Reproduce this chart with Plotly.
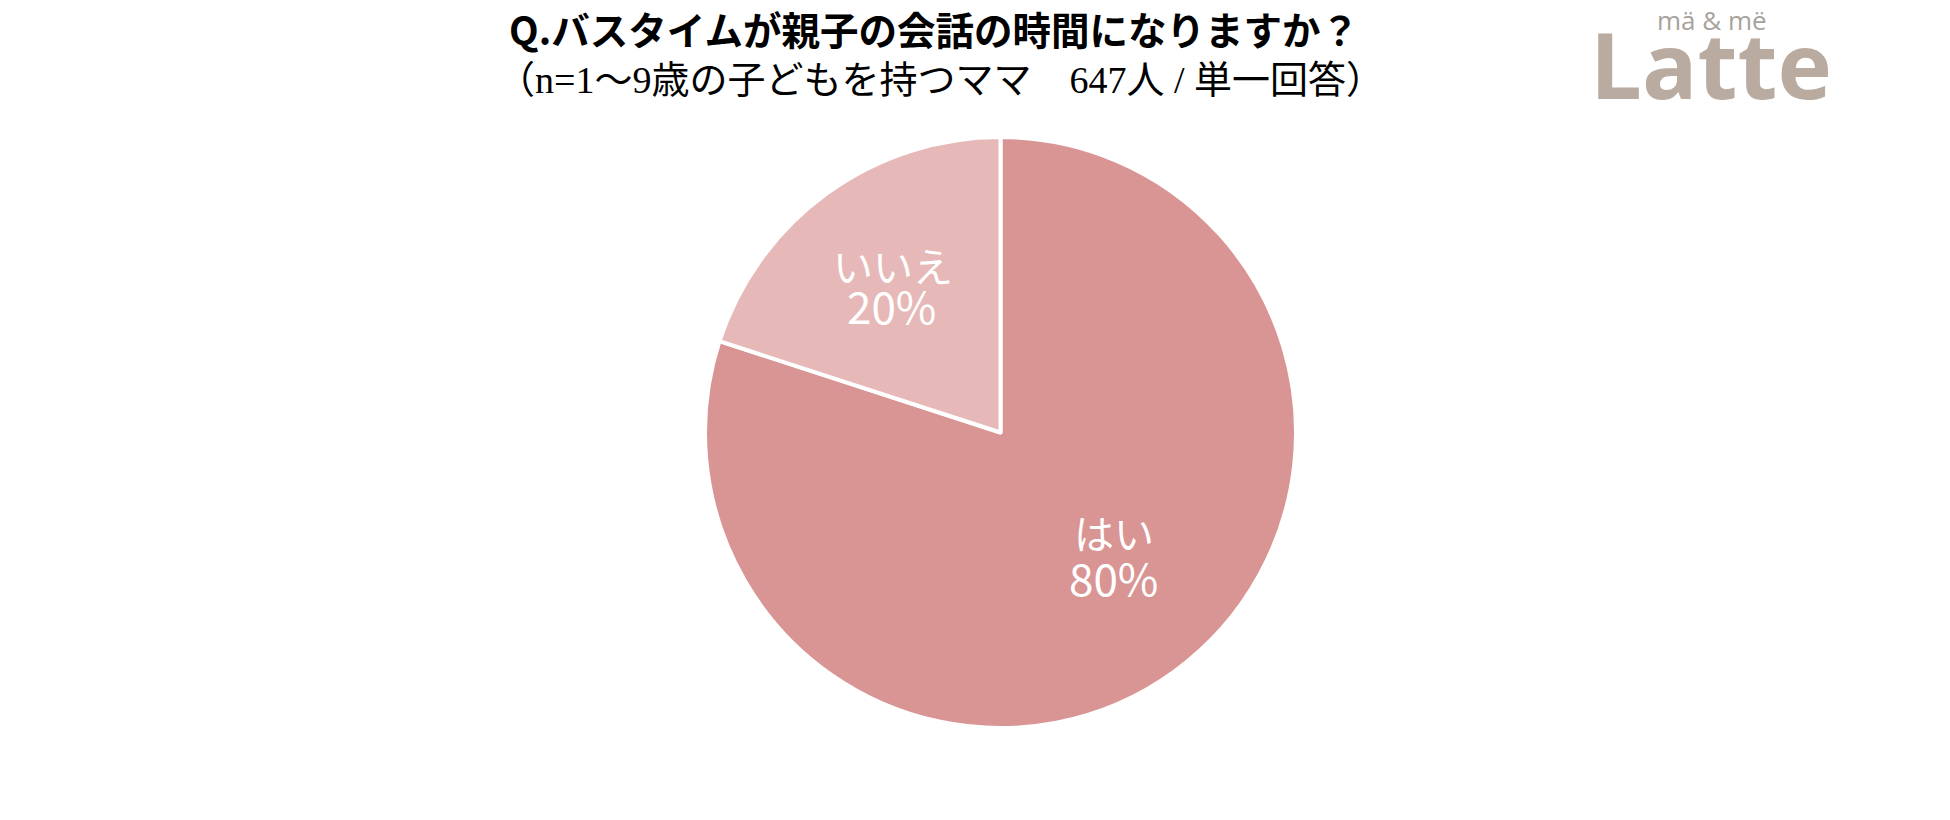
import plotly.graph_objects as go

# 回答データ
answers = ["はい", "いいえ"]
shares = [80, 20]
slice_colors = ["#D99594", "#E6B8B7"]

title_text = "Q.バスタイムが親子の会話の時間になりますか？"
subtitle_text = "（n=1～9歳の子どもを持つママ　647人 / 単一回答）"

W, H = 1950, 820
OFF = 8  # ページの body margin 分のずれ


def px_x(x):
    return (x - OFF) / W


def px_y(y):
    return 1 - (y - OFF) / H


fig = go.Figure()
fig.add_trace(
    go.Pie(
        labels=answers,
        values=shares,
        sort=False,
        direction="clockwise",
        rotation=0,
        marker=dict(colors=slice_colors, line=dict(color="white", width=4)),
        textinfo="none",
        hoverinfo="label+percent",
        showlegend=False,
        domain=dict(x=[px_x(705), px_x(1296)], y=[px_y(728), px_y(137)]),
    )
)

# ラベル (項目名 + 割合)
label_pos = {"はい": [(1114, 534), (1113, 580)], "いいえ": [(893, 267), (891, 308)]}
for name, val in zip(answers, shares):
    (lx, ly), (vx, vy) = label_pos[name]
    fig.add_annotation(
        text=name, xref="paper", yref="paper", x=px_x(lx), y=px_y(ly - 2),
        xanchor="center", yanchor="middle", showarrow=False,
        font=dict(family="Noto Sans CJK JP", size=40, color="white"),
    )
    fig.add_annotation(
        text=f"{val}%", xref="paper", yref="paper", x=px_x(vx), y=px_y(vy - 3),
        xanchor="center", yanchor="middle", showarrow=False,
        font=dict(family="Noto Sans CJK JP", size=44, color="white"),
    )

# タイトルとサブタイトル
fig.add_annotation(
    text="<b>" + title_text + "</b>",
    xref="paper", yref="paper", x=px_x(934), y=px_y(28),
    xanchor="center", yanchor="middle", showarrow=False,
    font=dict(family="Noto Sans CJK JP", size=38.5, color="black"),
)
fig.add_annotation(
    text=subtitle_text,
    xref="paper", yref="paper", x=px_x(940), y=px_y(80),
    xanchor="center", yanchor="middle", showarrow=False,
    font=dict(family="Liberation Serif, Noto Sans CJK JP", size=38, color="black"),
)

# ロゴ
fig.add_annotation(
    text="mä &amp; më",
    xref="paper", yref="paper", x=px_x(1712), y=px_y(20),
    xanchor="center", yanchor="middle", showarrow=False,
    font=dict(family="Open Sans", size=26, color="#A8A29C"),
)
fig.add_annotation(
    text="<b>Latte</b>",
    xref="paper", yref="paper", x=px_x(1711), y=px_y(63),
    xanchor="center", yanchor="middle", showarrow=False,
    font=dict(family="Open Sans", size=92, color="#B9ABA0"),
)

fig.update_layout(
    width=W, height=H,
    margin=dict(l=0, r=0, t=0, b=0),
    paper_bgcolor="white",
    plot_bgcolor="white",
)

fig.write_html("out.html")
